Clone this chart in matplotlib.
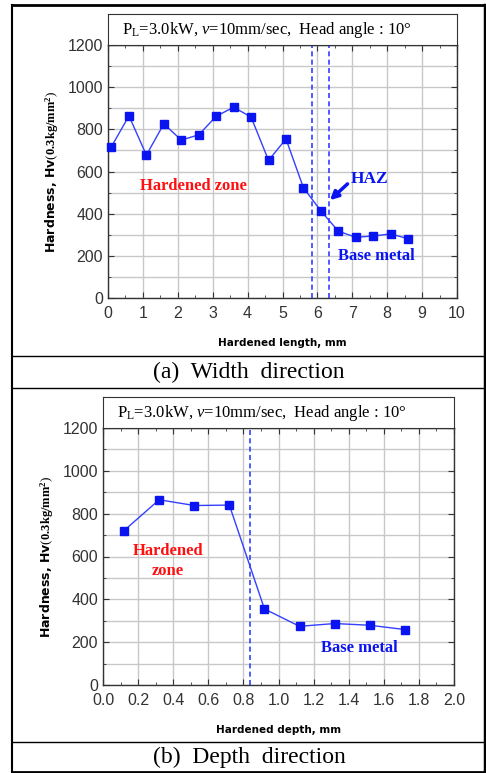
import numpy as np
import matplotlib
matplotlib.use("Agg")
import matplotlib.pyplot as plt
from matplotlib.lines import Line2D

# (a) width direction
width_x = [0.1, 0.6, 1.1, 1.6, 2.1, 2.6, 3.1, 3.6, 4.1, 4.6, 5.1, 5.6, 6.1, 6.6, 7.1, 7.6, 8.1, 8.6]
width_hv = [718, 864, 678, 826, 749, 774, 862, 905, 858, 653, 754, 523, 413, 317, 288, 294, 304, 281]
width_haz = [5.85, 6.32]

# (b) depth direction
depth_x = [0.12, 0.32, 0.52, 0.72, 0.92, 1.12, 1.32, 1.52, 1.72]
depth_hv = [721, 865, 838, 840, 355, 274, 287, 279, 259]
depth_haz = [0.838]

plt.rcParams["mathtext.fontset"] = "custom"
plt.rcParams["mathtext.rm"] = "Liberation Serif"
plt.rcParams["mathtext.it"] = "Liberation Serif:italic"
plt.rcParams["mathtext.bf"] = "Liberation Serif:bold"

title_txt = r"P$_\mathregular{L}$=3.0kW, $\mathit{v}$=10mm/sec,  Head angle : 10°"
ylab = r"Hardness, Hv$\left(\mathbf{0.3kg/mm^{2}}\right)$"

W, H = 486, 773
fig = plt.figure(figsize=(W / 100, H / 100), dpi=100)

BLUE = "#0a14f0"
LINE = "#3340ff"


def px_axes(x0, y0, x1, y1):
    # pixel box (from top-left) -> figure fraction
    return [x0 / W, 1 - y1 / H, (x1 - x0) / W, (y1 - y0) / H]


def hline(y, x0=12, x1=485, lw=1.0):
    fig.add_artist(Line2D([x0 / W, x1 / W], [1 - y / H, 1 - y / H], color="black", lw=lw))


def vline(x, y0, y1, lw=1.5):
    fig.add_artist(Line2D([x / W, x / W], [1 - y0 / H, 1 - y1 / H], color="black", lw=lw))


def setup(ax, xmax, xstep, xfmt):
    ax.set_xlim(0, xmax)
    ax.set_ylim(0, 1200)
    ax.set_xticks(np.arange(0, xmax + xstep / 2, xstep))
    ax.set_xticks(np.arange(xstep / 2, xmax, xstep), minor=True)
    ax.set_yticks(np.arange(0, 1201, 200))
    ax.set_yticks(np.arange(100, 1200, 200), minor=True)
    ax.set_xticklabels([xfmt.format(v) for v in np.arange(0, xmax + xstep / 2, xstep)])
    ax.grid(True, which="major", color="#c8c8c8", lw=1.0)
    ax.grid(True, which="minor", axis="y", color="#c8c8c8", lw=1.0)
    ax.tick_params(which="both", direction="in", top=True, right=True,
                   labelsize=11.5, length=4, color="#333333")
    ax.tick_params(axis="x", pad=6)
    ax.tick_params(which="minor", length=2.5)
    for lab in ax.get_xticklabels() + ax.get_yticklabels():
        lab.set_family("Liberation Sans")
        lab.set_color("#333333")
    for s in ax.spines.values():
        s.set_color("#333333")
        s.set_linewidth(1.0)
    ax.set_axisbelow(True)


def title_box(x0, y0, x1, y1):
    tb = fig.add_axes(px_axes(x0, y0, x1, y1))
    tb.set_xticks([])
    tb.set_yticks([])
    for s in tb.spines.values():
        s.set_color("#333333")
    tb.text(0.04, 0.5, title_txt, family="Liberation Serif", fontsize=12,
            va="center", ha="left", transform=tb.transAxes)


# ---- panel (a) ----
ax1 = fig.add_axes(px_axes(108, 45, 457, 298))
setup(ax1, 10, 1, "{:.0f}")
ax1.plot(width_x, width_hv, color=LINE, lw=1.0, marker="s", ms=5.5,
         mfc=BLUE, mec=BLUE, clip_on=False, zorder=3)
for xv in width_haz:
    ax1.axvline(xv, color=LINE, lw=1.2, ls=(0, (3, 2)))
ax1.text(2.45, 530, "Hardened zone", color="#ff1010", fontsize=12, fontweight="bold",
         family="Liberation Serif", ha="center", va="center")
ax1.text(7.5, 565, "HAZ", color=BLUE, fontsize=12.5, fontweight="bold",
         family="Liberation Serif", ha="center", va="center")
ax1.annotate("", xy=(6.3, 455), xytext=(6.92, 550),
             arrowprops=dict(arrowstyle="-|>", color=BLUE, lw=2.5, mutation_scale=12))
ax1.text(7.7, 198, "Base metal", color=BLUE, fontsize=12, fontweight="bold",
         family="Liberation Serif", ha="center", va="center")
ax1.set_xlabel("Hardened length, mm", fontsize=7.5, fontweight="bold", labelpad=12)
ax1.set_ylabel(ylab, fontsize=9, fontweight="bold", labelpad=5)
title_box(108, 14, 457, 45)

# ---- panel (b) ----
ax2 = fig.add_axes(px_axes(103, 428, 454, 685))
setup(ax2, 2.0, 0.2, "{:.1f}")
ax2.plot(depth_x, depth_hv, color=LINE, lw=1.0, marker="s", ms=5.5,
         mfc=BLUE, mec=BLUE, clip_on=False, zorder=3)
for xv in depth_haz:
    ax2.axvline(xv, color=LINE, lw=1.2, ls=(0, (3, 2)))
ax2.text(0.37, 580, "Hardened\nzone", color="#ff1010", fontsize=12, fontweight="bold",
         family="Liberation Serif", ha="center", va="center", linespacing=1.3)
ax2.text(1.46, 172, "Base metal", color=BLUE, fontsize=12, fontweight="bold",
         family="Liberation Serif", ha="center", va="center")
ax2.set_xlabel("Hardened depth, mm", fontsize=7.5, fontweight="bold", labelpad=12)
ax2.set_ylabel(ylab, fontsize=9, fontweight="bold", labelpad=5)
title_box(103, 397, 454, 428)

# ---- table frame ----
hline(5, lw=2.0)
hline(356)
hline(388)
hline(742)
hline(772, lw=2.0)
vline(12, 5, 772, lw=1.5)
vline(484.5, 5, 772, lw=2.5)

fig.text(249 / W, 1 - 372 / H, "(a)  Width  direction", family="Liberation Serif",
         fontsize=17, ha="center", va="center")
fig.text(249 / W, 1 - 757 / H, "(b)  Depth  direction", family="Liberation Serif",
         fontsize=17, ha="center", va="center")

fig.savefig("out.png", dpi=100)
